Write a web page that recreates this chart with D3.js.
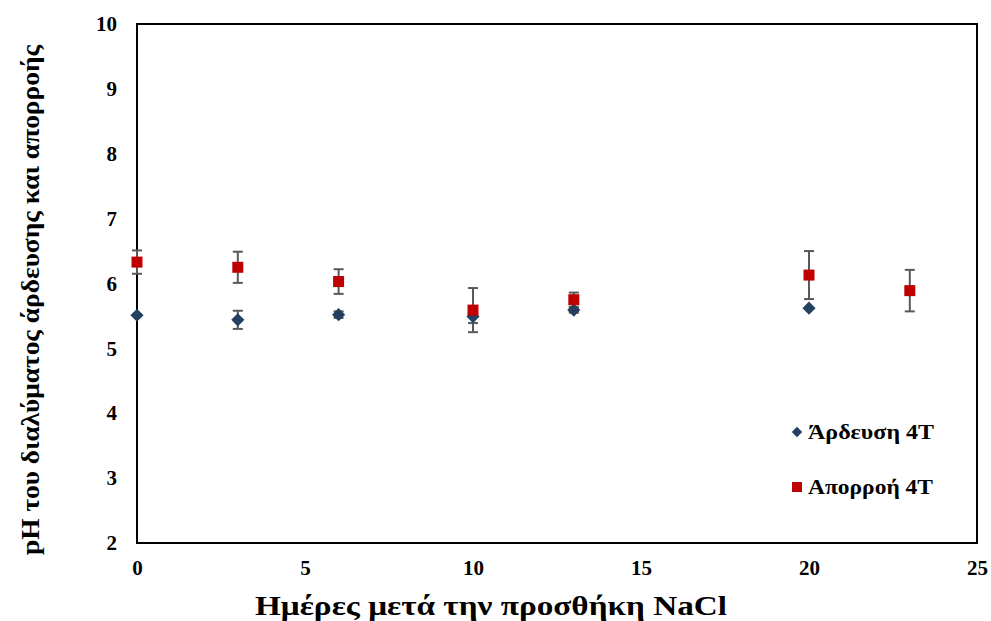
<!DOCTYPE html>
<html>
<head>
<meta charset="utf-8">
<script src="https://cdn.jsdelivr.net/npm/d3@7"></script>
<style>
  body { margin: 0; background: #fff; }
  text { font-family: "Liberation Serif", "Times New Roman", serif; font-weight: bold; }
</style>
</head>
<body>
<svg id="chart" width="991" height="621"></svg>
<script>
// data
const irrigDays = [0, 3, 6, 10, 13, 20];
const irrigPH = [5.51, 5.44, 5.52, 5.49, 5.59, 5.62];
const irrigErr = [0, 0.14, 0.05, 0.1, 0.04, 0];

const runoffDays = [0, 3, 6, 10, 13, 20, 23];
const runoffPH = [6.33, 6.25, 6.03, 5.59, 5.75, 6.13, 5.89];
const runoffErr = [0.18, 0.24, 0.19, 0.34, 0.11, 0.37, 0.32];

const xTicks = [0, 5, 10, 15, 20, 25];
const yTicks = [2, 3, 4, 5, 6, 7, 8, 9, 10];

const seriesNames = ["Άρδευση 4T", "Απορροή 4T"];

const margin = { top: 24, right: 14, bottom: 78, left: 137 },
  width = 991 - margin.left - margin.right,
  height = 621 - margin.top - margin.bottom;

const svg = d3.select("#chart");
const g = svg.append("g")
  .attr("transform", `translate(${margin.left},${margin.top})`);

const x = d3.scaleLinear().domain([0, 25]).range([0, width]);
const y = d3.scaleLinear().domain([2, 10]).range([height, 0]);

// frame
g.append("rect")
  .attr("width", width).attr("height", height)
  .attr("fill", "none").attr("stroke", "#000").attr("stroke-width", 2);

// axes (labels only, no tick marks)
const xAxis = g.append("g")
  .attr("transform", `translate(0,${height})`)
  .call(d3.axisBottom(x).tickValues(xTicks).tickSize(0).tickPadding(17));
const yAxis = g.append("g")
  .call(d3.axisLeft(y).tickValues(yTicks).tickSize(0).tickPadding(20));
[xAxis, yAxis].forEach(a => {
  a.select(".domain").remove();
  a.selectAll("text")
    .style("font-family", "'Liberation Serif', serif")
    .style("font-weight", "bold")
    .style("font-size", "21px")
    .attr("fill", "#000");
});

// error bars
function errorBars(days, vals, errs) {
  const eb = g.append("g").attr("stroke", "#595959").attr("stroke-width", 2);
  days.forEach((d, i) => {
    if (!errs[i]) return;
    const cx = x(d), y1 = y(vals[i] + errs[i]), y2 = y(vals[i] - errs[i]);
    eb.append("line").attr("x1", cx).attr("x2", cx).attr("y1", y1).attr("y2", y2);
    eb.append("line").attr("x1", cx - 5).attr("x2", cx + 5).attr("y1", y1).attr("y2", y1);
    eb.append("line").attr("x1", cx - 5).attr("x2", cx + 5).attr("y1", y2).attr("y2", y2);
  });
}
errorBars(irrigDays, irrigPH, irrigErr);
errorBars(runoffDays, runoffPH, runoffErr);

const diamond = d3.symbol().type(d3.symbolDiamond2).size(110);
const blue = "#243f60", red = "#c00000";

g.append("g").selectAll("path")
  .data(irrigDays)
  .join("path")
  .attr("d", diamond)
  .attr("transform", (d, i) => `translate(${x(d)},${y(irrigPH[i])})`)
  .attr("fill", blue);

g.append("g").selectAll("rect")
  .data(runoffDays)
  .join("rect")
  .attr("x", d => x(d) - 5.5)
  .attr("y", (d, i) => y(runoffPH[i]) - 5.5)
  .attr("width", 11).attr("height", 11)
  .attr("fill", red);

// legend
const legend = svg.append("g").attr("transform", "translate(797,432)");
legend.append("path").attr("d", d3.symbol().type(d3.symbolDiamond2).size(70)).attr("fill", blue);
legend.append("text").attr("x", 11).attr("y", 7).attr("font-size", "20px")
  .attr("textLength", 126).attr("lengthAdjust", "spacingAndGlyphs").text(seriesNames[0]);
legend.append("rect").attr("x", -5).attr("y", 50).attr("width", 10).attr("height", 10).attr("fill", red);
legend.append("text").attr("x", 11).attr("y", 62).attr("font-size", "20px")
  .attr("textLength", 125).attr("lengthAdjust", "spacingAndGlyphs").text(seriesNames[1]);

// axis titles
svg.append("text")
  .attr("x", 491).attr("y", 615)
  .attr("text-anchor", "middle")
  .attr("font-size", "28px")
  .attr("textLength", 472).attr("lengthAdjust", "spacingAndGlyphs")
  .text("Ημέρες μετά την προσθήκη NaCl");

svg.append("text")
  .attr("transform", "translate(39,300) rotate(-90)")
  .attr("text-anchor", "middle")
  .attr("font-size", "26px")
  .attr("textLength", 510).attr("lengthAdjust", "spacingAndGlyphs")
  .text("pH του διαλύματος άρδευσης και απορροής");
</script>
</body>
</html>
